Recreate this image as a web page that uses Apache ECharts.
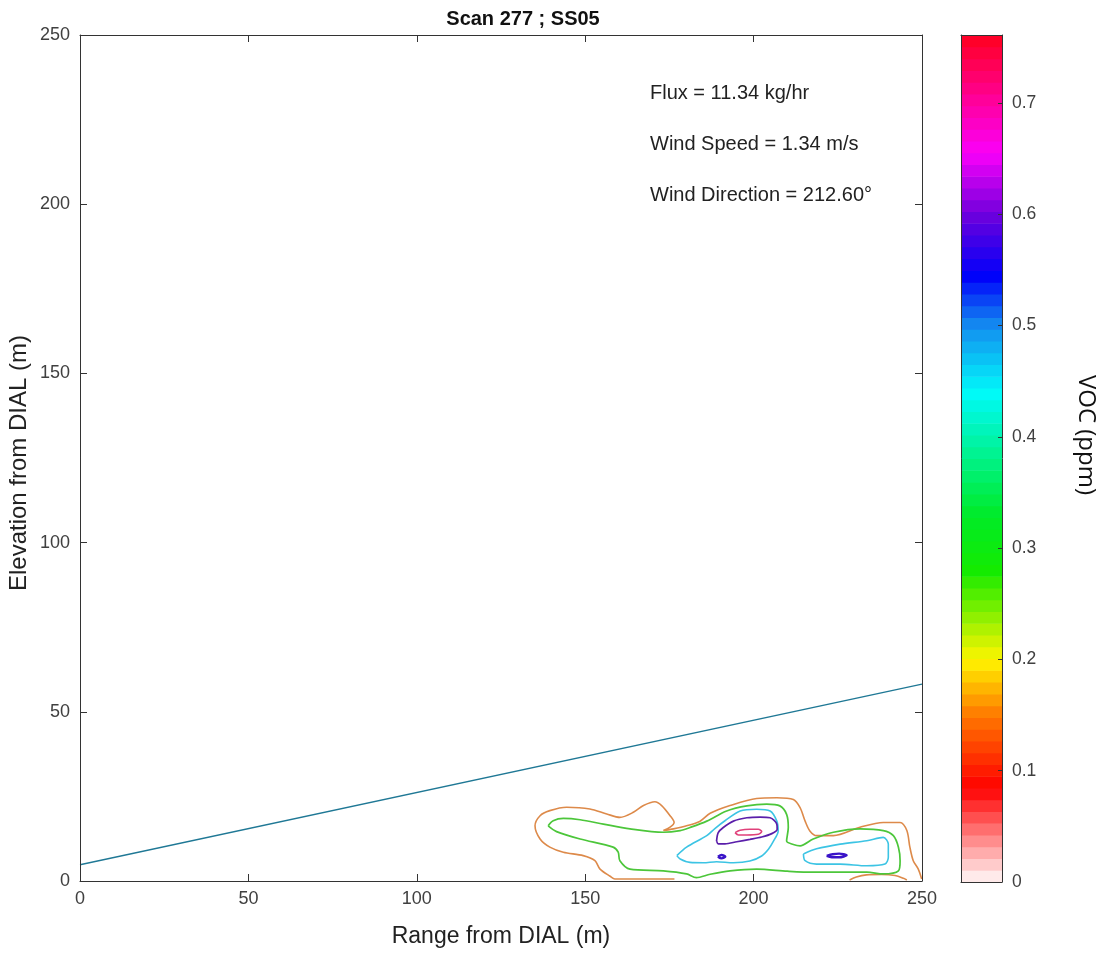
<!DOCTYPE html>
<html>
<head>
<meta charset="utf-8">
<title>Scan 277 ; SS05</title>
<script src="https://cdn.jsdelivr.net/npm/echarts@6/dist/echarts.min.js"></script>
<style>
  html, body { margin: 0; padding: 0; background: #fff; }
  #main { width: 1103px; height: 953px; }
</style>
</head>
<body>
<div id="main"></div>
<script>
// beam line
const beamX = [0, 250];
const beamY = [4.8, 58.2];

// contour paths, [range m, elevation m]
const orangeOuter = [[176.5,0.6],[168,0.6],[158.8,0.6],[157.4,1.4],[154.4,3.5],[152.9,6.0],[149.4,7.5],[143.5,8.5],[139.5,10.0],[136.6,12.4],[135.1,16.3],[136.6,19.3],[139.5,20.8],[144.5,21.8],[151.4,21.3],[156.4,19.8],[160.3,18.8],[164.3,20.3],[167.3,22.3],[170.7,23.4],[172.7,22.3],[175.2,19.3],[176.4,17.3],[175.2,15.9],[173.2,14.9],[176.2,15.4],[180.1,16.3],[184.0,17.6],[187.1,20.0],[193.0,22.3],[200.9,24.4],[206.9,24.6],[211.8,24.1],[213.8,21.7],[215.3,17.7],[216.7,14.8],[218.7,13.4],[223.7,13.4],[231.6,15.9],[238.5,17.3],[243.5,17.3],[245.5,14.9],[246.4,10.0],[247.4,6.0],[248.9,3.5],[249.9,0.6]];
const orangeBottom = [[228.5,0.3],[230.5,1.2],[233.5,1.8],[238.0,1.9],[242.0,1.6],[244.5,0.8],[245.5,0.3]];
const greenLoop = [[139.0,16.3],[140.5,17.8],[143.5,18.5],[148.5,18.1],[155.4,16.8],[163.3,15.4],[173.2,14.4],[178.2,14.9],[181.1,15.8],[186.1,17.7],[192.0,20.7],[198.0,22.2],[203.9,22.7],[207.8,22.2],[209.8,19.7],[210.3,15.8],[209.8,11.8],[211.8,10.8],[213.8,10.4],[217.7,12.4],[223.7,14.4],[231.6,15.4],[238.5,14.9],[241.5,13.4],[243.0,10.0],[243.5,6.0],[243.0,3.0],[238.5,2.1],[233.6,2.6],[223.7,2.6],[217.7,2.6],[210.0,2.9],[200.9,3.5],[193.0,3.0],[187.1,2.0],[183.0,1.0],[180.1,2.1],[173.2,3.0],[163.3,3.5],[160.3,6.0],[159.8,8.5],[158.3,10.0],[148.5,12.4],[141.5,14.6],[139.0,16.3]];
const cyanCentre = [[177.2,7.5],[180.1,10.0],[186.1,13.4],[188.5,15.5],[191.5,17.8],[196.0,20.7],[200.9,21.2],[204.9,20.7],[206.9,17.7],[207.3,14.8],[205.9,11.8],[204.4,9.4],[202.4,7.4],[198.9,5.9],[194.0,5.4],[189.0,5.7],[185.1,5.4],[181.1,5.5],[178.2,6.5],[177.2,7.5]];
const cyanRight = [[214.8,8.0],[218.7,9.5],[225.7,10.9],[233.6,11.9],[238.5,12.9],[240.0,10.9],[240.0,7.0],[239.0,5.0],[233.6,4.5],[225.7,5.0],[218.7,5.0],[215.3,6.0],[214.8,8.0]];
const purpleCentre = [[189.0,11.8],[189.5,14.3],[191.0,15.8],[194.0,17.7],[198.0,18.7],[201.9,18.9],[204.9,18.7],[206.9,16.8],[207.0,15.3],[205.4,14.0],[202.4,13.0],[198.9,12.3],[195.0,11.6],[191.5,11.0],[189.5,11.0],[189.0,11.8]];
const purpleDotA = [[189.4,7.2],[190.5,7.7],[191.6,7.2],[190.5,6.7],[189.4,7.2]];
const purpleDotB = [[221.7,7.4],[223.5,7.9],[225.4,8.1],[227.6,7.6],[225.4,7.0],[223.2,7.0],[221.7,7.4]];
const redCore = [[194.5,14.3],[196.0,15.0],[198.9,15.3],[201.4,15.3],[202.4,14.6],[201.4,13.8],[198.0,13.6],[195.5,13.6],[194.5,14.3]];

// colour bar
const vocMax = 0.761;
const vocTicks = [0, 0.1, 0.2, 0.3, 0.4, 0.5, 0.6, 0.7];
const infoLines = ['Flux = 11.34 kg/hr', 'Wind Speed = 1.34 m/s', 'Wind Direction = 212.60°'];

// colormap anchors (style)
const cmap = [
  [0.0, [255, 250, 250]], [0.085, [255, 0, 0]], [0.15, [255, 120, 0]], [0.2, [255, 245, 0]],
  [0.28, [20, 235, 0]], [0.33, [0, 235, 40]], [0.44, [0, 250, 250]], [0.5, [20, 140, 240]],
  [0.545, [0, 0, 250]], [0.6, [110, 0, 220]], [0.655, [250, 0, 250]], [0.7, [255, 0, 160]],
  [0.761, [255, 0, 30]]
];
function cmapColor(v) {
  for (let i = 1; i < cmap.length; i++) {
    if (v <= cmap[i][0]) {
      const a = cmap[i - 1], b = cmap[i];
      const t = (v - a[0]) / (b[0] - a[0]);
      const c = a[1].map((x, k) => Math.round(x + (b[1][k] - x) * t));
      return 'rgb(' + c.join(',') + ')';
    }
  }
  return 'rgb(255,0,30)';
}
const nBands = 72;
const bands = [];
for (let i = 0; i < nBands; i++) {
  const lo = vocMax * i / nBands, hi = vocMax * (i + 1) / nBands;
  bands.push([lo, hi, cmapColor((lo + hi) / 2)]);
}

const axisColor = '#333';
const labelColor = '#404040';
const font = 'Liberation Sans, Arial, sans-serif';

function contour(name, data, color, width) {
  return {
    name: name, type: 'line', xAxisIndex: 0, yAxisIndex: 0,
    data: data, showSymbol: false, smooth: 0.3,
    lineStyle: { color: color, width: width || 1.6 },
    silent: true, z: 3
  };
}

// box axes: ticks inside, no onZero so the mirrored ones stay on the far edges
function boxAxis(extra) {
  return Object.assign({
    type: 'value', min: 0, max: 250, interval: 50,
    axisLine: { show: true, onZero: false, lineStyle: { color: axisColor, width: 1 } },
    axisTick: { inside: true, length: 7, lineStyle: { color: axisColor } },
    axisLabel: { show: false },
    splitLine: { show: false }, z: 10
  }, extra);
}

const chart = echarts.init(document.getElementById('main'));
const option = {
  animation: false,
  backgroundColor: '#fff',
  textStyle: { fontFamily: font },
  title: {
    text: 'Scan 277 ; SS05',
    left: 518, top: 4, textAlign: 'center',
    textStyle: { fontSize: 20, fontWeight: 'bold', color: '#111', fontFamily: font }
  },
  grid: [
    { left: 80, right: 181, top: 35, bottom: 71 },
    { left: 961, width: 41, top: 35, bottom: 71 }
  ],
  xAxis: [
    boxAxis({
      gridIndex: 0, position: 'bottom',
      name: 'Range from DIAL (m)', nameLocation: 'middle', nameGap: 44,
      nameTextStyle: { fontSize: 23, color: '#222' },
      axisLabel: { fontSize: 18, color: labelColor, margin: 9 }
    }),
    boxAxis({ gridIndex: 0, position: 'top' }),
    {
      gridIndex: 1, type: 'value', min: 0, max: 1, position: 'bottom',
      axisLine: { show: true, onZero: false, lineStyle: { color: axisColor } },
      axisTick: { show: false }, axisLabel: { show: false }, splitLine: { show: false }, z: 10
    },
    {
      gridIndex: 1, type: 'value', min: 0, max: 1, position: 'top',
      axisLine: { show: true, onZero: false, lineStyle: { color: axisColor } },
      axisTick: { show: false }, axisLabel: { show: false }, splitLine: { show: false }, z: 10
    }
  ],
  yAxis: [
    boxAxis({
      gridIndex: 0, position: 'left',
      axisLabel: { fontSize: 18, color: labelColor, margin: 10 }
    }),
    boxAxis({ gridIndex: 0, position: 'right' }),
    {
      gridIndex: 1, type: 'value', min: 0, max: vocMax, interval: 0.1, position: 'right',
      axisLine: { show: true, onZero: false, lineStyle: { color: axisColor } },
      axisTick: { inside: true, length: 4, lineStyle: { color: axisColor } },
      axisLabel: {
        fontSize: 17.5, color: labelColor, margin: 10, showMaxLabel: false,
        formatter: v => (vocTicks.indexOf(Math.round(v * 10) / 10) >= 0 ? (v === 0 ? '0' : v.toFixed(1)) : '')
      },
      splitLine: { show: false }, z: 10
    },
    {
      gridIndex: 1, type: 'value', min: 0, max: vocMax, position: 'left',
      axisLine: { show: true, onZero: false, lineStyle: { color: axisColor } },
      axisTick: { show: false }, axisLabel: { show: false }, splitLine: { show: false }, z: 10
    }
  ],
  graphic: [
    {
      type: 'text', left: 650, top: 83,
      style: { text: infoLines[0], fontSize: 20, fill: '#222', fontFamily: font }
    },
    {
      type: 'text', left: 650, top: 134,
      style: { text: infoLines[1], fontSize: 20, fill: '#222', fontFamily: font }
    },
    {
      type: 'text', left: 650, top: 185,
      style: { text: infoLines[2], fontSize: 20, fill: '#222', fontFamily: font }
    },
    {
      type: 'text', x: 19, y: 463, rotation: Math.PI / 2,
      style: { text: 'Elevation from DIAL (m)', fontSize: 24, fill: '#222', fontFamily: font, align: 'center', verticalAlign: 'middle' }
    },
    {
      type: 'text', x: 1086, y: 435, rotation: -Math.PI / 2,
      style: { text: 'VOC (ppm)', fontSize: 24, fill: '#111', fontFamily: 'Open Sans, sans-serif', align: 'center', verticalAlign: 'middle' }
    }
  ],
  series: [
    {
      name: 'beam', type: 'line', xAxisIndex: 0, yAxisIndex: 0,
      data: beamX.map((x, i) => [x, beamY[i]]), showSymbol: false,
      lineStyle: { color: '#1f7895', width: 1.3 }, silent: true, z: 3
    },
    contour('0.15 outer', orangeOuter, '#dd8a4a'),
    contour('0.15 bottom', orangeBottom, '#dd8a4a'),
    contour('0.3', greenLoop, '#4cc63a', 1.7),
    contour('0.45 centre', cyanCentre, '#3cc4e4'),
    contour('0.45 right', cyanRight, '#3cc4e4'),
    contour('0.6 centre', purpleCentre, '#5a1eaa', 1.7),
    contour('0.6 dot a', purpleDotA, '#3a14c8', 2.4),
    contour('0.6 dot b', purpleDotB, '#3a14c8', 2.4),
    contour('0.7', redCore, '#e0407a'),
    {
      name: 'colorbar', type: 'custom', xAxisIndex: 2, yAxisIndex: 2,
      data: bands, silent: true, z: 2,
      renderItem: function (params, api) {
        const p0 = api.coord([0, api.value(0)]);
        const p1 = api.coord([1, api.value(1)]);
        return {
          type: 'rect',
          shape: { x: p0[0], y: p1[1], width: p1[0] - p0[0], height: p0[1] - p1[1] + 0.6 },
          style: { fill: bands[params.dataIndex][2] }
        };
      },
      encode: { x: -1, y: [0, 1] }
    }
  ]
};
chart.setOption(option);
</script>
</body>
</html>
